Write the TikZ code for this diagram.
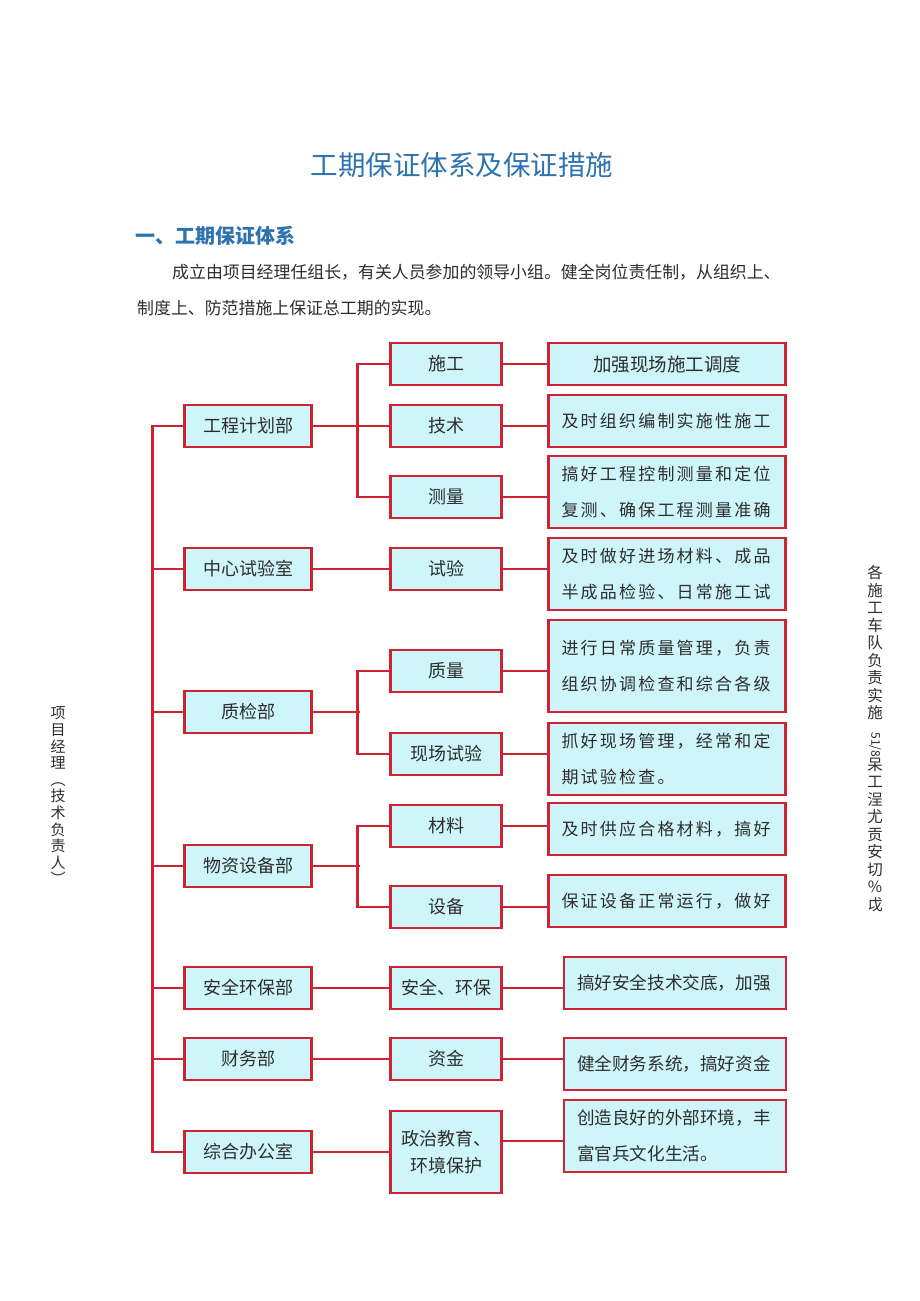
\documentclass[tikz,border=0pt]{standalone}
\usepackage{fontspec}
\setmainfont{Noto Sans CJK SC}
\newfontfamily\spacedcjk[LetterSpace=13]{Noto Sans CJK SC}
\usetikzlibrary{calc}
\definecolor{boxfill}{RGB}{206,245,250}
\definecolor{linered}{RGB}{205,35,50}
\definecolor{titleblue}{RGB}{45,115,175}
\definecolor{bodytext}{RGB}{45,45,45}
\tikzset{
  unit/.style={draw=linered, line width=2.4pt, fill=boxfill, inner sep=0pt, text=bodytext},
  deptbox/.style={unit, minimum width=127pt, minimum height=42pt, font=\fontsize{18}{18}\selectfont},
  taskbox/.style={unit, minimum width=111pt, minimum height=42pt, font=\fontsize{18}{18}\selectfont},
  notebox/.style={unit, text width=211pt, inner xsep=13pt, align=left, font=\spacedcjk\fontsize{17}{36}\selectfont},
  shortnote/.style={unit, text width=196pt, inner xsep=13pt, align=left, font=\fontsize{17.6}{36}\selectfont},
  link/.style={draw=linered, line width=2.4pt},
  sidetext/.style={align=center, inner sep=0pt, text=bodytext},
}
\begin{document}
\begin{tikzpicture}[x=1pt,y=-1pt]
  %%%%% PAGE %%%%%
  \fill[white] (0,0) rectangle (920,1301);
  \useasboundingbox (0,0) rectangle (920,1301);

  \node[text=titleblue, font=\fontsize{27.5}{27.5}\selectfont] (title) at (462,165) {工期保证体系及保证措施};
  \node[anchor=west, inner sep=0pt, text=titleblue, font=\bfseries\fontsize{20}{20}\selectfont] (heading) at (135,236) {一、工期保证体系};
  \node[anchor=west, inner sep=0pt, text=bodytext, font=\fontsize{16.9}{16.9}\selectfont] (para1) at (172,272) {成立由项目经理任组长，有关人员参加的领导小组。健全岗位责任制，从组织上、};
  \node[anchor=west, inner sep=0pt, text=bodytext, font=\fontsize{16.9}{16.9}\selectfont] (para2) at (137,308) {制度上、防范措施上保证总工期的实现。};

  %%%%% DEPARTMENTS %%%%%
  \node[deptbox] (plan) at (248,426) {工程计划部};
  \node[deptbox] (lab) at (248,569) {中心试验室};
  \node[deptbox] (qc) at (248,712) {质检部};
  \node[deptbox] (supply) at (248,866) {物资设备部};
  \node[deptbox] (safety) at (248,988) {安全环保部};
  \node[deptbox] (finance) at (248,1059) {财务部};
  \node[deptbox] (office) at (248,1152) {综合办公室};

  %%%%% TASKS %%%%%
  \node[taskbox] (build) at (446,364) {施工};
  \node[taskbox] (tech) at (446,426) {技术};
  \node[taskbox] (survey) at (446,497) {测量};
  \node[taskbox] (test) at (446,569) {试验};
  \node[taskbox] (quality) at (446,671) {质量};
  \node[taskbox] (sitetest) at (446,754) {现场试验};
  \node[taskbox] (material) at (446,826) {材料};
  \node[taskbox] (equip) at (446,907) {设备};
  \node[taskbox] (envsafe) at (446,988) {安全、环保};
  \node[taskbox] (funds) at (446,1059) {资金};
  \node[taskbox, minimum height=82pt, align=center, font=\fontsize{18}{27}\selectfont] (politics) at (446,1152) {政治教育、\\环境保护};

  %%%%% MEASURES %%%%%
  \node[unit, minimum width=237pt, minimum height=42pt, font=\fontsize{18.5}{18.5}\selectfont] (note1) at (667,364) {加强现场施工调度};
  \node[notebox, minimum height=52pt] (note2) at (667,421) {及时组织编制实施性施工};
  \node[notebox, minimum height=72pt] (note3) at (667,492) {搞好工程控制测量和定位\\复测、确保工程测量准确};
  \node[notebox, minimum height=72pt] (note4) at (667,574) {及时做好进场材料、成品\\半成品检验、日常施工试};
  \node[notebox, minimum height=92pt] (note5) at (667,666) {进行日常质量管理，负责\\组织协调检查和综合各级};
  \node[notebox, minimum height=72pt] (note6) at (667,759) {抓好现场管理，经常和定\\期试验检查。};
  \node[notebox, minimum height=52pt] (note7) at (667,829) {及时供应合格材料，搞好};
  \node[notebox, minimum height=52pt] (note8) at (667,901) {保证设备正常运行，做好};
  \node[shortnote, minimum height=52pt] (note9) at (675,983) {搞好安全技术交底，加强};
  \node[shortnote, minimum height=52pt] (note10) at (675,1064) {健全财务系统，搞好资金};
  \node[shortnote, minimum height=72pt] (note11) at (675,1136) {创造良好的外部环境，丰\\富官兵文化生活。};

  %%%%% LINKS %%%%%
  \draw[link] (plan.west) -- ++(-31,0) |- (office.west);
  \foreach \dept in {lab,qc,supply,safety,finance}
    \draw[link] (\dept.west) -- ++(-31,0);

  \draw[link] (build.west) -- ++(-32,0) |- (survey.west);
  \draw[link] (plan.east) -- (tech.west);
  \draw[link] (lab.east) -- (test.west);
  \draw[link] (quality.west) -- ++(-32,0) |- (sitetest.west);
  \draw[link] (qc.east) -- ++(47,0);
  \draw[link] (material.west) -- ++(-32,0) |- (equip.west);
  \draw[link] (supply.east) -- ++(47,0);
  \draw[link] (safety.east) -- (envsafe.west);
  \draw[link] (finance.east) -- (funds.west);
  \draw[link] (office.east) -- (office.east -| politics.west);

  \foreach \task/\note in {build/note1,tech/note2,survey/note3,test/note4,quality/note5,sitetest/note6,material/note7,equip/note8,envsafe/note9,funds/note10}
    \draw[link] (\task.east) -- (\task.east -| \note.west);
  \draw[link] ([yshift=11pt]politics.east) -- ([yshift=11pt]politics.east -| note11.west);

  %%%%% SIDE NOTES %%%%%
  \node[sidetext, font=\fontsize{15}{16.6}\selectfont] (manager) at (58,796) {项\\目\\经\\理\\︵\\技\\术\\负\\责\\人\\︶};
  \node[sidetext, font=\fontsize{15.5}{17.5}\selectfont] (crews) at (875,643) {各\\施\\工\\车\\队\\负\\责\\实\\施};
  \node[sidetext, font=\fontsize{15.5}{17.5}\selectfont] (ensure) at (875,822) {\rotatebox{-90}{\fontsize{12}{12}\selectfont 51/8}\\呆\\工\\浧\\尤\\贡\\安\\切\\\%\\戉};
\end{tikzpicture}
\end{document}
